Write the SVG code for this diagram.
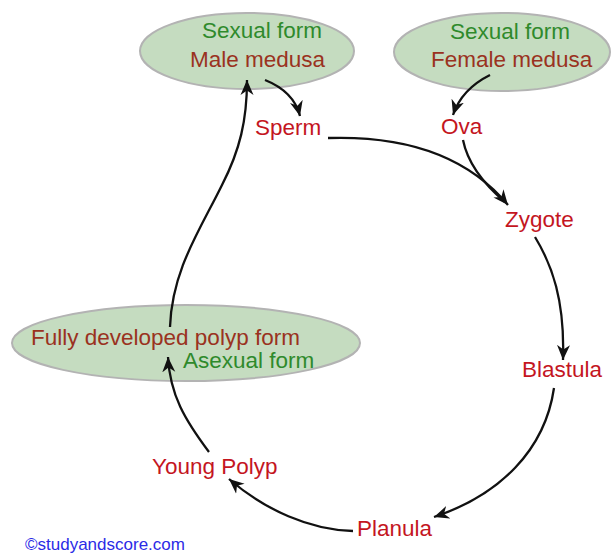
<svg xmlns="http://www.w3.org/2000/svg" width="612" height="554" viewBox="0 0 612 554">
<style>
.el{fill:#c5dcc0;stroke:#b3b3b3;stroke-width:2}
text{font-family:"Liberation Sans",Arial,sans-serif;font-size:22.5px}
.g{fill:#2f8a2c}
.b{fill:#9a3220}
.r{fill:#c4161f}
.c{fill:none;stroke:#111;stroke-width:2.3}
</style>
<defs>
<marker id="ah" markerUnits="userSpaceOnUse" markerWidth="18" markerHeight="14" refX="15" refY="7" orient="auto">
<path d="M0,0.5 L15,7 L0,13.5 L4.5,7 z" fill="#111"/>
</marker>
</defs>
<rect width="612" height="554" fill="#fff"/>
<g id="male-medusa">
<ellipse class="el" cx="247" cy="51" rx="107" ry="38"/>
<text class="g" x="202" y="38">Sexual form</text>
<text class="b" x="190" y="67">Male medusa</text>
</g>
<g id="female-medusa">
<ellipse class="el" cx="502" cy="52" rx="108" ry="39"/>
<text class="g" x="450" y="39">Sexual form</text>
<text class="b" x="431" y="67">Female medusa</text>
</g>
<g id="polyp-form">
<ellipse class="el" cx="186" cy="343" rx="174" ry="38"/>
<text class="b" x="31" y="345">Fully developed polyp form</text>
<text class="g" x="183" y="368">Asexual form</text>
</g>
<g id="sperm"><text class="r" x="255" y="135">Sperm</text></g>
<g id="ova"><text class="r" x="441" y="134">Ova</text></g>
<g id="zygote"><text class="r" x="505" y="227">Zygote</text></g>
<g id="blastula"><text class="r" x="522" y="377">Blastula</text></g>
<g id="planula"><text class="r" x="357" y="536">Planula</text></g>
<g id="young-polyp"><text class="r" x="152" y="474">Young Polyp</text></g>
<g id="connectors">
<path class="c" d="M265,80 C285,88 296,100 300,116" marker-end="url(#ah)"/>
<path class="c" d="M490,75 C470,85 458,100 453,115" marker-end="url(#ah)"/>
<path class="c" d="M328,138 C420,135 475,165 508,205" marker-end="url(#ah)"/>
<path class="c" d="M463,140 C468,165 485,185 505,202"/>
<path class="c" d="M535,237 C552,265 565,300 563,360" marker-end="url(#ah)"/>
<path class="c" d="M554,388 C545,450 500,495 434,517" marker-end="url(#ah)"/>
<path class="c" d="M353,531 C310,530 265,510 229,479" marker-end="url(#ah)"/>
<path class="c" d="M209,452 C185,420 170,395 168,357" marker-end="url(#ah)"/>
<path class="c" d="M170,327 C172,270 200,230 222,185 C240,150 247,120 247,80" marker-end="url(#ah)"/>
</g>
<text x="25" y="550" style="font-size:17px;fill:#2b2be6">©studyandscore.com</text>
</svg>
